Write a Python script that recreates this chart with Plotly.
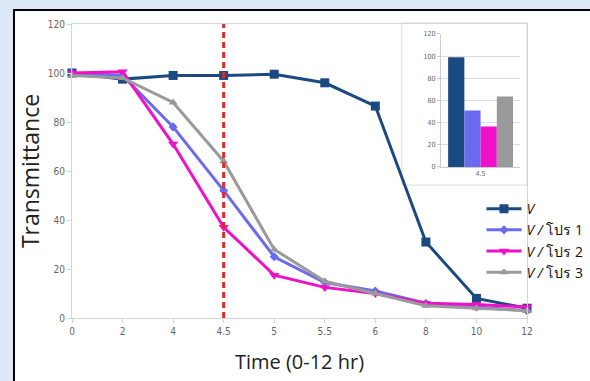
import plotly.graph_objects as go

times = ["0", "2", "4", "4.5", "5", "5.5", "6", "8", "10", "12"]
v_vals = [100, 97.5, 99, 99, 99.5, 96, 86.5, 31, 8, 4]
v1_vals = [100, 99, 78, 52, 25, 14.5, 11, 6, 4.5, 3]
v2_vals = [100, 100.5, 71, 37, 17.5, 12.5, 10, 6, 5.5, 4.5]
v3_vals = [99, 98, 88, 64, 28, 15, 10, 5, 4, 3]

names = ["<i>V</i>", "<i>V / </i>โปร 1", "<i>V / </i>โปร 2", "<i>V / </i>โปร 3"]
colors = ["#1b4a82", "#6a6af0", "#f010c8", "#9a9a9a"]
symbols = ["square", "diamond", "triangle-down", "triangle-up"]
msizes = [9, 7, 9, 8]

inset_cat = ["4.5"]
inset_vals = [99, 51, 36.5, 63.5]

fig = go.Figure()
for vals, nm, c, s, ms in zip([v_vals, v1_vals, v2_vals, v3_vals], names, colors, symbols, msizes):
    fig.add_trace(go.Scatter(x=times, y=vals, name=nm, mode="lines+markers",
                             line=dict(color=c, width=3),
                             marker=dict(symbol=s, size=ms, color=c),
                             cliponaxis=False, xaxis="x", yaxis="y"))

for val, c in zip(inset_vals, colors):
    fig.add_trace(go.Bar(x=inset_cat, y=[val], marker=dict(color=c, line=dict(width=0)),
                         showlegend=False, xaxis="x2", yaxis="y2"))

tick_font = dict(family="Liberation Sans Narrow, DejaVu Sans Condensed, Arial", size=10, color="#666666")

fig.update_layout(
    width=590, height=381,
    margin=dict(l=72, r=63, t=24, b=63, autoexpand=False),
    paper_bgcolor="#dce8f5",
    plot_bgcolor="white",
    barmode="group", bargap=0.18, bargroupgap=0,
    xaxis=dict(type="category", categoryorder="array", categoryarray=times,
               range=[0, 9], showgrid=False, showline=True, mirror=True,
               linecolor="#d4d4d4", linewidth=1, ticks="outside", ticklen=4,
               tickcolor="#d4d4d4", tickfont=tick_font, zeroline=False,
               title=dict(text="Time (0-12 hr)", font=dict(family="Open Sans, Arial", size=20, color="#222222"), standoff=18)),
    yaxis=dict(range=[0, 120], dtick=20, showgrid=False, showline=True, mirror=True,
               linecolor="#d4d4d4", linewidth=1, ticks="outside", ticklen=4,
               tickcolor="#d4d4d4", tickfont=tick_font, zeroline=False,
               title=dict(text="Transmittance", font=dict(family="Open Sans, Arial", size=23, color="#222222"), standoff=1)),
    xaxis2=dict(domain=[0.811, 0.985], anchor="y2", type="category", showline=True,
                linecolor="#cccccc", ticks="", tickfont=dict(family=tick_font["family"], size=7, color="#666666")),
    yaxis2=dict(domain=[0.514, 0.966], anchor="x2", range=[0, 120], dtick=20, showgrid=True,
                gridcolor="#dddddd", showline=True, linecolor="#cccccc", ticks="outside", ticklen=3,
                tickcolor="#cccccc", zeroline=False,
                tickfont=dict(family=tick_font["family"], size=7, color="#666666")),
    legend=dict(x=0.9, xanchor="left", y=0.425, yanchor="top", bgcolor="rgba(255,255,255,0)",
                font=dict(family="Open Sans, Noto Sans, DejaVu Sans", size=14, color="#111111"),
                tracegroupgap=0, itemwidth=35),
    showlegend=True,
    shapes=[
        dict(type="rect", xref="paper", yref="paper", x0=-0.1275, x1=1.3, y0=-0.4, y1=1.0476,
             fillcolor="white", line=dict(color="black", width=2), layer="below"),
        dict(type="rect", xref="paper", yref="paper", x0=0.725, x1=1.0, y0=0.452, y1=1.0034,
             fillcolor="white", line=dict(color="#d9d9d9", width=1), layer="below"),
        dict(type="line", xref="x", yref="y", x0=3, x1=3, y0=0, y1=121.5,
             line=dict(color="#e02828", width=3, dash="6px,4px"), layer="above"),
    ],
)

fig.write_html("out.html")
